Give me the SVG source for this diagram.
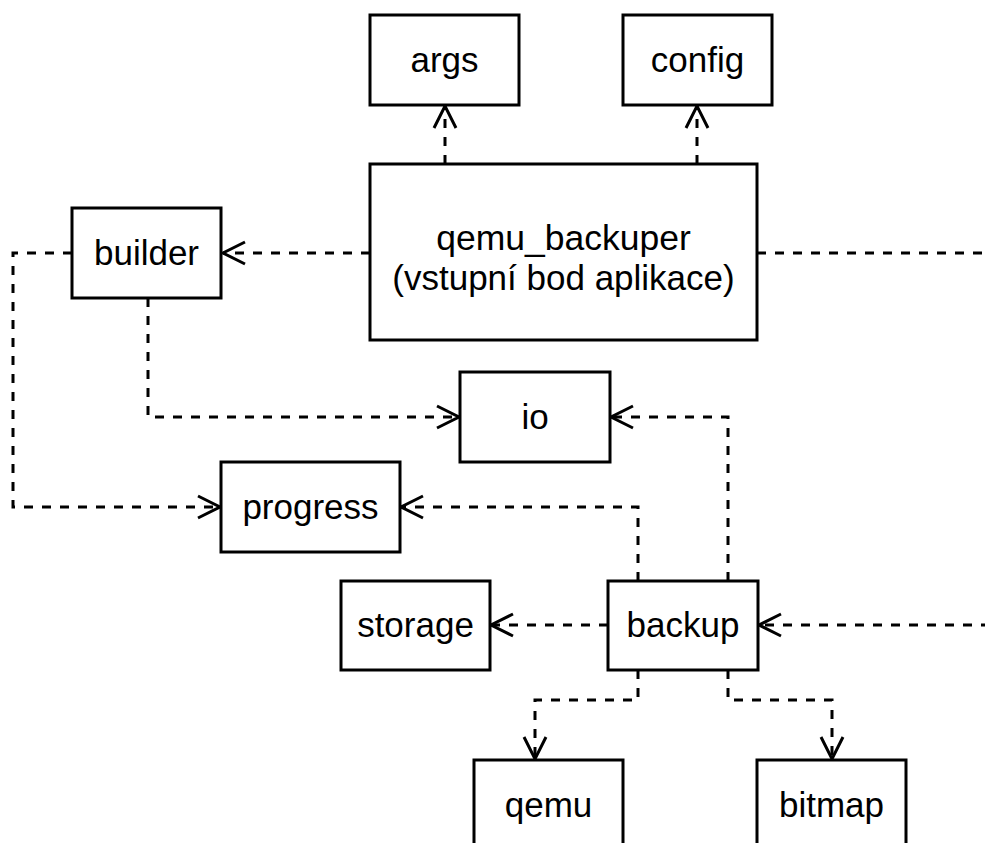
<svg xmlns="http://www.w3.org/2000/svg" width="985" height="843" viewBox="0 0 985 843">
  <style>
    .box { fill: #ffffff; stroke: #000000; stroke-width: 3; }
    .lbl { font-family: "Liberation Sans", Arial, sans-serif; font-size: 35px; fill: #000000; text-anchor: middle; }
    .link { fill: none; stroke: #000000; stroke-width: 3; stroke-dasharray: 9 9; }
    .arrow { marker-end: url(#open); }
  </style>
  <defs>
    <marker id="open" markerUnits="userSpaceOnUse" viewBox="-26 -14 30 28" refX="0" refY="0" markerWidth="30" markerHeight="28" orient="auto" overflow="visible">
      <path d="M-22,-11 L0,0 L-22,11" fill="none" stroke="#000000" stroke-width="3"/>
    </marker>
  </defs>
  <rect width="985" height="843" fill="#ffffff"/>

  <g id="connectors">
    <path class="link arrow" d="M445,164 V106"/>
    <path class="link arrow" d="M697,164 V106"/>
    <path class="link arrow" d="M370,253 H223"/>
    <path class="link arrow" d="M148,298 V417 H459"/>
    <path class="link arrow" d="M72,253 H13 V507 H220"/>
    <path class="link arrow" d="M728,581 V417 H611"/>
    <path class="link arrow" d="M638,581 V507 H401"/>
    <path class="link arrow" d="M608,625 H491"/>
    <path class="link arrow" d="M638,670 V700 H535 V759"/>
    <path class="link arrow" d="M728,670 V700 H832 V759"/>
    <path class="link arrow" d="M990,625 H759"/>
    <path class="link" d="M757,253 H990"/>
  </g>

  <g id="args">
    <rect class="box" x="370" y="15" width="149" height="90"/>
    <text class="lbl" x="444.5" y="72">args</text>
  </g>
  <g id="config">
    <rect class="box" x="623" y="15" width="149" height="90"/>
    <text class="lbl" x="697.5" y="72">config</text>
  </g>
  <g id="qemu_backuper">
    <rect class="box" x="370" y="164" width="387" height="176"/>
    <text class="lbl" x="563.5" y="250" style="font-size:35.5px">qemu_backuper</text>
    <text class="lbl" x="563.5" y="290">(vstupní bod aplikace)</text>
  </g>
  <g id="builder">
    <rect class="box" x="72" y="208" width="149" height="90"/>
    <text class="lbl" x="146.5" y="265">builder</text>
  </g>
  <g id="io">
    <rect class="box" x="460" y="372" width="150" height="90"/>
    <text class="lbl" x="535" y="429">io</text>
  </g>
  <g id="progress">
    <rect class="box" x="221" y="462" width="179" height="90"/>
    <text class="lbl" x="310.5" y="519">progress</text>
  </g>
  <g id="storage">
    <rect class="box" x="341" y="581" width="149" height="89"/>
    <text class="lbl" x="415.5" y="637">storage</text>
  </g>
  <g id="backup">
    <rect class="box" x="608" y="581" width="150" height="89"/>
    <text class="lbl" x="683" y="637">backup</text>
  </g>
  <g id="qemu">
    <rect class="box" x="474" y="760" width="149" height="90"/>
    <text class="lbl" x="548.5" y="817">qemu</text>
  </g>
  <g id="bitmap">
    <rect class="box" x="757" y="760" width="149" height="90"/>
    <text class="lbl" x="831.5" y="817">bitmap</text>
  </g>
</svg>
